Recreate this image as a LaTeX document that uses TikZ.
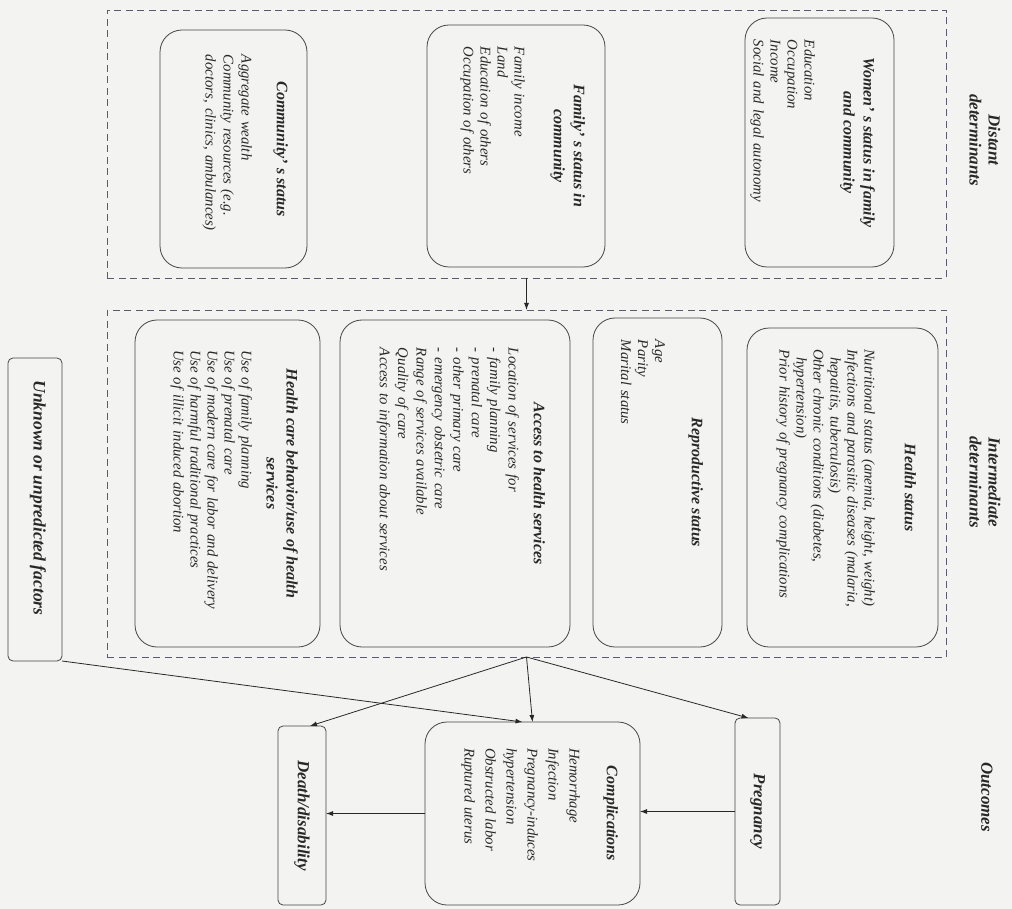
\documentclass[tikz,border=0pt]{standalone}
\usepackage{fontspec}
\setmainfont{Liberation Serif}
\usetikzlibrary{arrows.meta}
\definecolor{bg}{RGB}{243,243,242}
\definecolor{edge}{RGB}{70,70,70}
\definecolor{dashc}{RGB}{95,88,112}
\definecolor{ink}{RGB}{40,40,40}

\begin{document}
\begin{tikzpicture}[x=1pt,y=-1pt,
  every node/.style={inner sep=0pt, outer sep=0pt, text=ink},
  zone/.style={draw=dashc, line width=0.9pt, dash pattern=on 7pt off 4.5pt},
  card/.style={draw=edge, line width=0.8pt, rounded corners=22pt},
  tag/.style={draw=edge, line width=0.8pt, rounded corners=5pt},
  ttl/.style={rotate=-90, align=center, font=\fontsize{16}{20}\selectfont\bfseries\itshape},
  itm/.style={rotate=-90, align=left, font=\fontsize{14.8}{17}\selectfont\itshape},
  lbl/.style={rotate=-90, align=center, font=\fontsize{17}{19}\selectfont\bfseries\itshape},
  arr/.style={draw=ink, line width=0.8pt, -{Latex[length=7pt,width=5pt]}}
]
\path[use as bounding box, fill=bg] (0,0) rectangle (1012,909);

% dashed groups
\node[zone, minimum width=839pt, minimum height=268pt] (distant) at (526.5,144) {};
\node[zone, minimum width=839pt, minimum height=347pt] (inter) at (526.5,483.5) {};

% distant determinants
\node[card, minimum width=149pt, minimum height=249pt] (women) at (819.5,142.5) {};
\node[ttl, anchor=north] (womenT) at (875,142.5) {Women' s status in family\\and community};
\node[itm, text width=205pt, anchor=north] (womenL) at (815,142.5)
  {Education\\Occupation\\Income\\Social and legal autonomy};

\node[card, minimum width=178pt, minimum height=242pt] (family) at (516,146) {};
\node[ttl, anchor=north] (familyT) at (585,146) {Family' s status in\\community};
\node[itm, text width=198pt, anchor=north] (familyL) at (525,146)
  {Family income\\Land\\Education of others\\Occupation of others};

\node[card, minimum width=147pt, minimum height=238pt] (commun) at (233.5,149) {};
\node[ttl, anchor=north] (communT) at (288,149) {Community' s status};
\node[itm, text width=188pt, anchor=north, font=\fontsize{14.8}{18}\selectfont\itshape] (communL) at (252,149)
  {Aggregate wealth\\Community resources (e.g.\\doctors, clinics, ambulances)};

% intermediate determinants
\node[card, minimum width=191pt, minimum height=319pt] (health) at (842.5,487.5) {};
\node[ttl, anchor=north] (healthT) at (916,487.5) {Health status};
\node[itm, text width=277pt, anchor=north] (healthL) at (875,487.5)
  {Nutritional status (anemia, height, weight)\\
   Infections and parasitic diseases (malaria,\\
   \hspace*{8pt}hepatitis, tuberculosis)\\
   Other chronic conditions (diabetes,\\
   \hspace*{8pt}hypertension)\\
   Prior history of pregnancy complications};

\node[card, minimum width=129pt, minimum height=329pt] (repro) at (657.5,482.5) {};
\node[ttl, anchor=north] (reproT) at (703,482.5) {Reproductive status};
\node[itm, text width=285pt, anchor=north] (reproL) at (665,482.5)
  {Age\\Parity\\Marital status};

\node[card, minimum width=230pt, minimum height=327pt] (access) at (455,483.5) {};
\node[ttl, anchor=north] (accessT) at (545,483.5) {Access to health services};
\node[itm, text width=271pt, anchor=north, font=\fontsize{14.8}{18.4}\selectfont\itshape] (accessL) at (519,483.5)
  {Location of services for\\- family planning\\- prenatal care\\- other primary care\\
   - emergency obstetric care\\Range of services available\\Quality of care\\
   Access to information about services};

\node[card, minimum width=185pt, minimum height=327pt] (behav) at (227.5,483.5) {};
\node[ttl, anchor=north] (behavT) at (298,483.5) {Health care behavior/use of health\\services};
\node[itm, text width=267pt, anchor=north] (behavL) at (252,483.5)
  {Use of family planning\\Use of prenatal care\\Use of modern care for labor and delivery\\
   Use of harmful traditional practices\\Use of illicit induced abortion};

% unpredicted influences
\node[tag, minimum width=54pt, minimum height=303pt] (unknown) at (35,509.5) {};
\node[rotate=-90, font=\fontsize{17.5}{20}\selectfont\bfseries\itshape] (unknownT) at (38,498)
  {Unknown or unpredicted factors};

% outcomes
\node[tag, minimum width=45pt, minimum height=187pt] (preg) at (757.5,811.5) {};
\node[rotate=-90, font=\fontsize{17}{20}\selectfont\bfseries\itshape] (pregT) at (757.5,811.5) {Pregnancy};

\node[card, minimum width=215pt, minimum height=183pt] (comp) at (532.5,813.5) {};
\node[ttl, anchor=north] (compT) at (618,813.5) {Complications};
\node[itm, text width=131pt, anchor=north, font=\fontsize{14.8}{21}\selectfont\itshape] (compL) at (580,813.5)
  {Hemorrhage\\Infection\\Pregnancy-induces\\hypertension\\Obstructed labor\\Ruptured uterus};

\node[tag, minimum width=48pt, minimum height=179pt] (death) at (302,815.5) {};
\node[rotate=-90, font=\fontsize{17}{20}\selectfont\bfseries\itshape] (deathT) at (302,815.5) {Death/disability};

% column headings
\node[lbl] (dlab) at (985,140) {Distant\\determinants};
\node[lbl] (ilab) at (985,482) {Intermediate\\determinants};
\node[lbl] (olab) at (987,797) {Outcomes};

% connectors
\draw[arr] (distant.south) -- (inter.north);
\draw[arr] (inter.south) -- ([xshift=-9pt]preg.north);
\draw[arr] (inter.south) -- (comp.north);
\draw[arr] (inter.south) -- ([xshift=8pt]death.north);
\draw[arr] (unknown.south east) -- ([xshift=-10pt]comp.north);
\draw[arr] (preg.west) -- (preg.west -| comp.east);
\draw[arr] (comp.west) -- (comp.west -| death.east);
\end{tikzpicture}
\end{document}
